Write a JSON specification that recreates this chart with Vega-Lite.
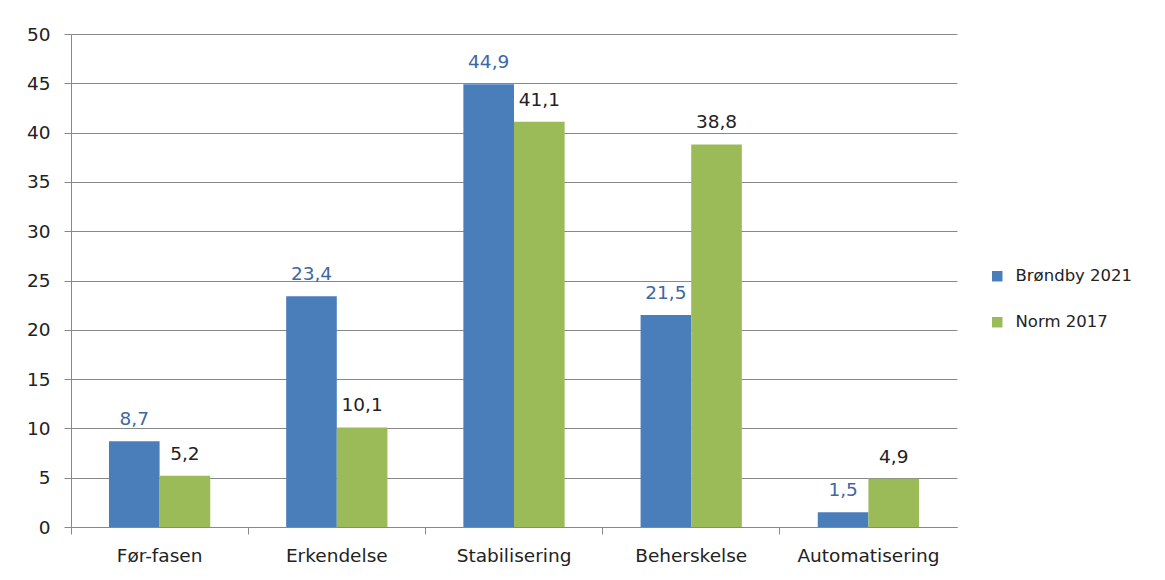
{
  "$schema": "https://vega.github.io/schema/vega-lite/v6.json",
  "autosize": "none",
  "width": 886,
  "height": 493,
  "padding": {"left": 71, "top": 34, "right": 208, "bottom": 53},
  "background": "white",
  "config": {
    "locale": {"number": {"decimal": ",", "thousands": ".", "grouping": [3], "currency": ["", " kr"]}},
    "font": "DejaVu Sans",
    "view": {"stroke": null},
    "axis": {"labelFont": "DejaVu Sans", "labelFontSize": 18.5, "labelColor": "#222"}
  },
  "data": {
    "values": [
      {"fase": "Før-fasen", "serie": "Brøndby 2021", "v": 8.7},
      {"fase": "Før-fasen", "serie": "Norm 2017", "v": 5.2},
      {"fase": "Erkendelse", "serie": "Brøndby 2021", "v": 23.4},
      {"fase": "Erkendelse", "serie": "Norm 2017", "v": 10.1},
      {"fase": "Stabilisering", "serie": "Brøndby 2021", "v": 44.9},
      {"fase": "Stabilisering", "serie": "Norm 2017", "v": 41.1},
      {"fase": "Beherskelse", "serie": "Brøndby 2021", "v": 21.5},
      {"fase": "Beherskelse", "serie": "Norm 2017", "v": 38.8},
      {"fase": "Automatisering", "serie": "Brøndby 2021", "v": 1.5},
      {"fase": "Automatisering", "serie": "Norm 2017", "v": 4.9}
    ]
  },
  "encoding": {
    "x": {
      "field": "fase", "type": "nominal", "sort": null,
      "scale": {"paddingInner": 0, "paddingOuter": 0},
      "axis": {"title": null, "labelAngle": 0, "bandPosition": 0, "labelPadding": 12, "tickSize": 7, "tickColor": "#888", "domainColor": "#888", "labelAlign": "center"}
    },
    "xOffset": {"field": "serie", "type": "nominal", "scale": {"paddingInner": 0, "paddingOuter": 0.75}},
    "y": {
      "field": "v", "type": "quantitative",
      "scale": {"domain": [0, 50], "nice": false},
      "axis": {"title": null, "values": [0,5,10,15,20,25,30,35,40,45,50], "format": "d", "tickSize": 7, "tickColor": "#888", "domainColor": "#888", "gridColor": "#888", "gridWidth": 1, "labelPadding": 14}
    }
  },
  "layer": [
    {
      "mark": {"type": "bar"},
      "encoding": {
        "color": {
          "field": "serie", "type": "nominal",
          "scale": {"domain": ["Brøndby 2021", "Norm 2017"], "range": ["#4a7ebb", "#9bbb59"]},
          "legend": {"title": null, "orient": "none", "legendX": 918, "legendY": 234, "symbolType": "square", "symbolSize": 110, "symbolStrokeWidth": 0, "labelFontSize": 16.5, "labelFont": "DejaVu Sans", "labelColor": "#222", "rowPadding": 29, "labelOffset": 10}
        }
      }
    },
    {
      "mark": {"type": "text", "baseline": "alphabetic", "dy": -16, "fontSize": 18.5},
      "encoding": {
        "text": {"field": "v", "type": "quantitative", "format": ".1f"},
        "color": {"field": "serie", "type": "nominal", "scale": {"domain": ["Brøndby 2021", "Norm 2017"], "range": ["#3e67a3", "#222222"]}, "legend": null}
      }
    }
  ],
  "resolve": {"scale": {"color": "independent"}}
}
